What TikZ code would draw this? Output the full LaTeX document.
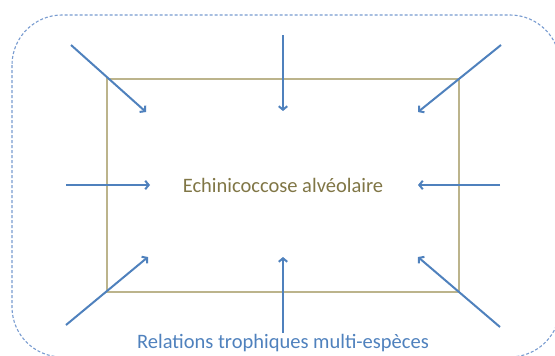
\documentclass[tikz,border=0pt]{standalone}
\usepackage{fontspec}
\setmainfont{Carlito}
\usetikzlibrary{arrows.meta}
\definecolor{arrowblue}{RGB}{79,129,189}
\definecolor{dashblue}{RGB}{120,155,208}
\definecolor{olivebox}{RGB}{188,180,140}
\definecolor{olivetext}{RGB}{128,118,70}
\tikzset{
  flow/.style={draw=arrowblue, line width=2pt, -{Straight Barb[length=3.5pt,width=8.5pt]}},
  frame/.style={draw=dashblue, line width=1.1pt, dash pattern=on 3pt off 2pt, rounded corners=50pt},
  inner/.style={draw=olivebox, line width=1.8pt},
  lbl/.style={font=\fontsize{20.5}{24}\selectfont, inner sep=0pt}
}
\begin{document}
\begin{tikzpicture}[x=1pt,y=-1pt]
\useasboundingbox (0,0) rectangle (555,356);
\clip (0,0) rectangle (555,356);
\draw[frame] (12,15) rectangle (560,357);
\draw[inner] (107,79) rectangle (459,292);
\node[lbl, text=olivetext] (disease) at (283,185) {Echinicoccose alvéolaire};
\node[lbl, text=arrowblue] (relations) at (283,343) {Relations trophiques multi-espèces};
% free ends
\coordinate (tlS) at (71,45);   \coordinate (tlE) at (146,112);
\coordinate (tmS) at (283,35);  \coordinate (tmE) at (283,111);
\coordinate (trS) at (501,45);  \coordinate (trE) at (418,112);
\coordinate (mlS) at (66,185);  \coordinate (mlE) at (150,185);
\coordinate (mrS) at (500,185); \coordinate (mrE) at (418,185);
\coordinate (blS) at (66,325);  \coordinate (blE) at (148,257);
\coordinate (bmS) at (283,333); \coordinate (bmE) at (283,257);
\coordinate (brS) at (500,327); \coordinate (brE) at (418,257);
\draw[flow] (tlS) -- (tlE);
\draw[flow] (tmS) -- (tmE);
\draw[flow] (trS) -- (trE);
\draw[flow] (mlS) -- (mlE);
\draw[flow] (mrS) -- (mrE);
\draw[flow] (blS) -- (blE);
\draw[flow] (bmS) -- (bmE);
\draw[flow] (brS) -- (brE);
\end{tikzpicture}
\end{document}
